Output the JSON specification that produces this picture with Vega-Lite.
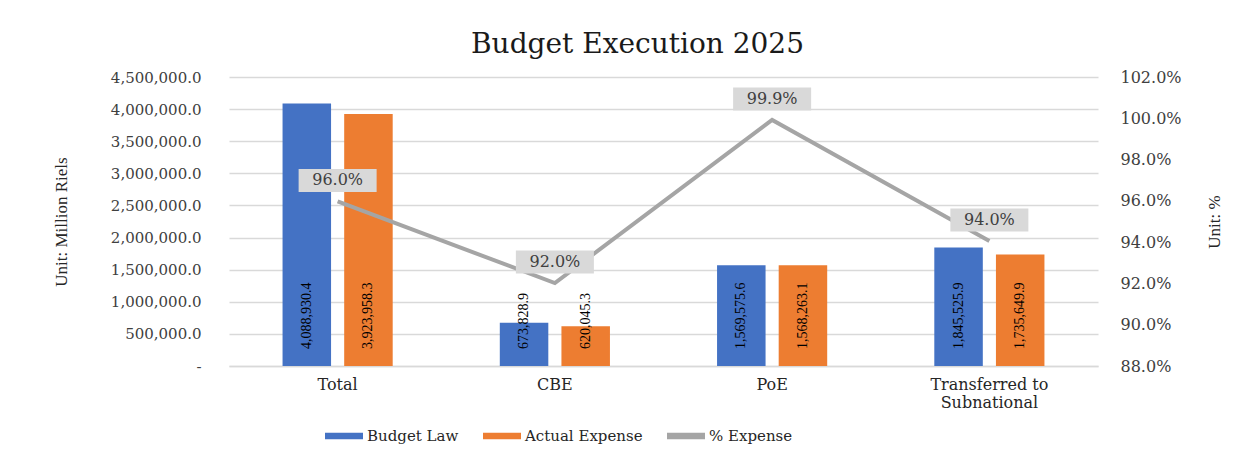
{
  "$schema": "https://vega.github.io/schema/vega-lite/v6.json",
  "autosize": {"type": "none"},
  "width": 869,
  "height": 289,
  "padding": {"left": 229, "top": 77, "right": 153, "bottom": 87},
  "background": "white",
  "title": {
    "text": "Budget Execution 2025",
    "font": "DejaVu Serif",
    "fontSize": 28,
    "fontWeight": "normal",
    "color": "#1a1a1a",
    "anchor": "middle",
    "dx": -26,
    "dy": 37,
    "baseline": "alphabetic",
    "offset": 25
  },
  "config": {
    "view": {"stroke": null},
    "axis": {"labelFont": "DejaVu Serif", "titleFont": "Liberation Serif", "titleFontWeight": "normal", "labelColor": "#404040", "titleColor": "#262626", "labelOverlap": false}
  },
  "datasets": {
    "bars": [
      {"cat": "Total", "series": "Budget Law", "value": 4088930.4},
      {"cat": "Total", "series": "Actual Expense", "value": 3923958.3},
      {"cat": "CBE", "series": "Budget Law", "value": 673828.9},
      {"cat": "CBE", "series": "Actual Expense", "value": 620045.3},
      {"cat": "PoE", "series": "Budget Law", "value": 1569575.6},
      {"cat": "PoE", "series": "Actual Expense", "value": 1568263.1},
      {"cat": "Transferred to Subnational", "series": "Budget Law", "value": 1845525.9},
      {"cat": "Transferred to Subnational", "series": "Actual Expense", "value": 1735649.9}
    ],
    "pct": [
      {"cat": "Total", "pct": 0.9597},
      {"cat": "CBE", "pct": 0.9202},
      {"cat": "PoE", "pct": 0.9992},
      {"cat": "Transferred to Subnational", "pct": 0.9405}
    ]
  },
  "layer": [
    {
      "data": {"name": "bars"},
      "encoding": {
        "x": {
          "field": "cat", "type": "nominal",
          "sort": ["Total", "CBE", "PoE", "Transferred to Subnational"],
          "scale": {"paddingInner": 0.493, "paddingOuter": 0.2465},
          "axis": {
            "title": null, "labelAngle": 0, "ticks": false, "domainColor": "#D9D9D9", "domainWidth": 1.3,
            "labelFontSize": 16, "labelPadding": 10, "labelLineHeight": 18, "labelColor": "#262626",
            "labelExpr": "datum.label == 'Transferred to Subnational' ? ['Transferred to', 'Subnational'] : datum.label"
          }
        },
        "xOffset": {"field": "series", "sort": ["Budget Law", "Actual Expense"], "scale": {"paddingInner": 0.213, "paddingOuter": 0}}
      },
      "layer": [
        {
          "mark": {"type": "bar"},
          "encoding": {
            "y": {
              "field": "value", "type": "quantitative",
              "scale": {"domain": [0, 4500000], "nice": false, "zero": true},
              "axis": {
                "orient": "left",
                "title": "Unit: Million Riels", "titleFontSize": 17, "titlePadding": 40,
                "values": [0, 500000, 1000000, 1500000, 2000000, 2500000, 3000000, 3500000, 4000000, 4500000],
                "labelExpr": "datum.value == 0 ? '-\u00a0\u00a0\u00a0' : format(datum.value, ',.1f')",
                "labelFontSize": 15, "labelPadding": 28, "ticks": false, "domain": false, "labelOverlap": false,
                "grid": true, "gridColor": "#D9D9D9", "gridWidth": 1.3
              }
            },
            "color": {
              "field": "series", "type": "nominal",
              "scale": {"domain": ["Budget Law", "Actual Expense", "% Expense"], "range": ["#4472C4", "#ED7D31", "#A5A5A5"]},
              "legend": {
                "title": null, "orient": "none", "direction": "horizontal", "legendX": 96, "legendY": 340,
                "symbolType": "M-1,-0.17H1V0.17H-1Z", "symbolSize": 1444, "symbolStrokeWidth": 0, "symbolOpacity": 1,
                "labelFont": "DejaVu Serif", "labelFontSize": 15, "labelColor": "#262626", "labelOffset": 4, "columnPadding": 24
              }
            }
          }
        },
        {
          "mark": {"type": "text", "angle": 270, "align": "left", "baseline": "middle", "yOffset": -17, "font": "Liberation Serif", "fontSize": 14, "color": "#000000"},
          "encoding": {
            "y": {
              "datum": 0, "type": "quantitative",
              "scale": {"domain": [0, 4500000], "nice": false, "zero": true},
              "axis": {
                "orient": "left",
                "title": "Unit: Million Riels", "titleFontSize": 17, "titlePadding": 40,
                "values": [0, 500000, 1000000, 1500000, 2000000, 2500000, 3000000, 3500000, 4000000, 4500000],
                "labelExpr": "datum.value == 0 ? '-\u00a0\u00a0\u00a0' : format(datum.value, ',.1f')",
                "labelFontSize": 15, "labelPadding": 28, "ticks": false, "domain": false, "labelOverlap": false,
                "grid": true, "gridColor": "#D9D9D9", "gridWidth": 1.3
              }
            },
            "text": {"field": "value", "type": "quantitative", "format": ",.1f"}
          }
        }
      ]
    },
    {
      "data": {"name": "pct"},
      "encoding": {
        "x": {"field": "cat", "type": "nominal", "sort": ["Total", "CBE", "PoE", "Transferred to Subnational"]},
        "y": {
          "field": "pct", "type": "quantitative",
          "scale": {"domain": [0.88, 1.02], "nice": false, "zero": false},
          "axis": {
            "orient": "right", "title": "Unit: %", "titleAngle": 270, "titleFontSize": 17, "titlePadding": 42,
            "values": [0.88, 0.90, 0.92, 0.94, 0.96, 0.98, 1.00, 1.02], "format": ".1%",
            "labelFontSize": 16, "labelPadding": 22, "ticks": false, "domain": false, "grid": false
          }
        }
      },
      "layer": [
        {"mark": {"type": "line", "color": "#A5A5A5", "strokeWidth": 4}},
        {"mark": {"type": "point", "shape": "M-1,-0.295H1V0.295H-1Z", "size": 6084, "filled": true, "fill": "#D9D9D9", "stroke": null, "opacity": 1, "yOffset": -21}},
        {"mark": {"type": "text", "yOffset": -21, "font": "DejaVu Serif", "fontSize": 16, "color": "#404040", "baseline": "middle"},
         "encoding": {"text": {"field": "pct", "type": "quantitative", "format": ".1%"}}}
      ]
    }
  ],
  "resolve": {"scale": {"y": "independent"}}
}
